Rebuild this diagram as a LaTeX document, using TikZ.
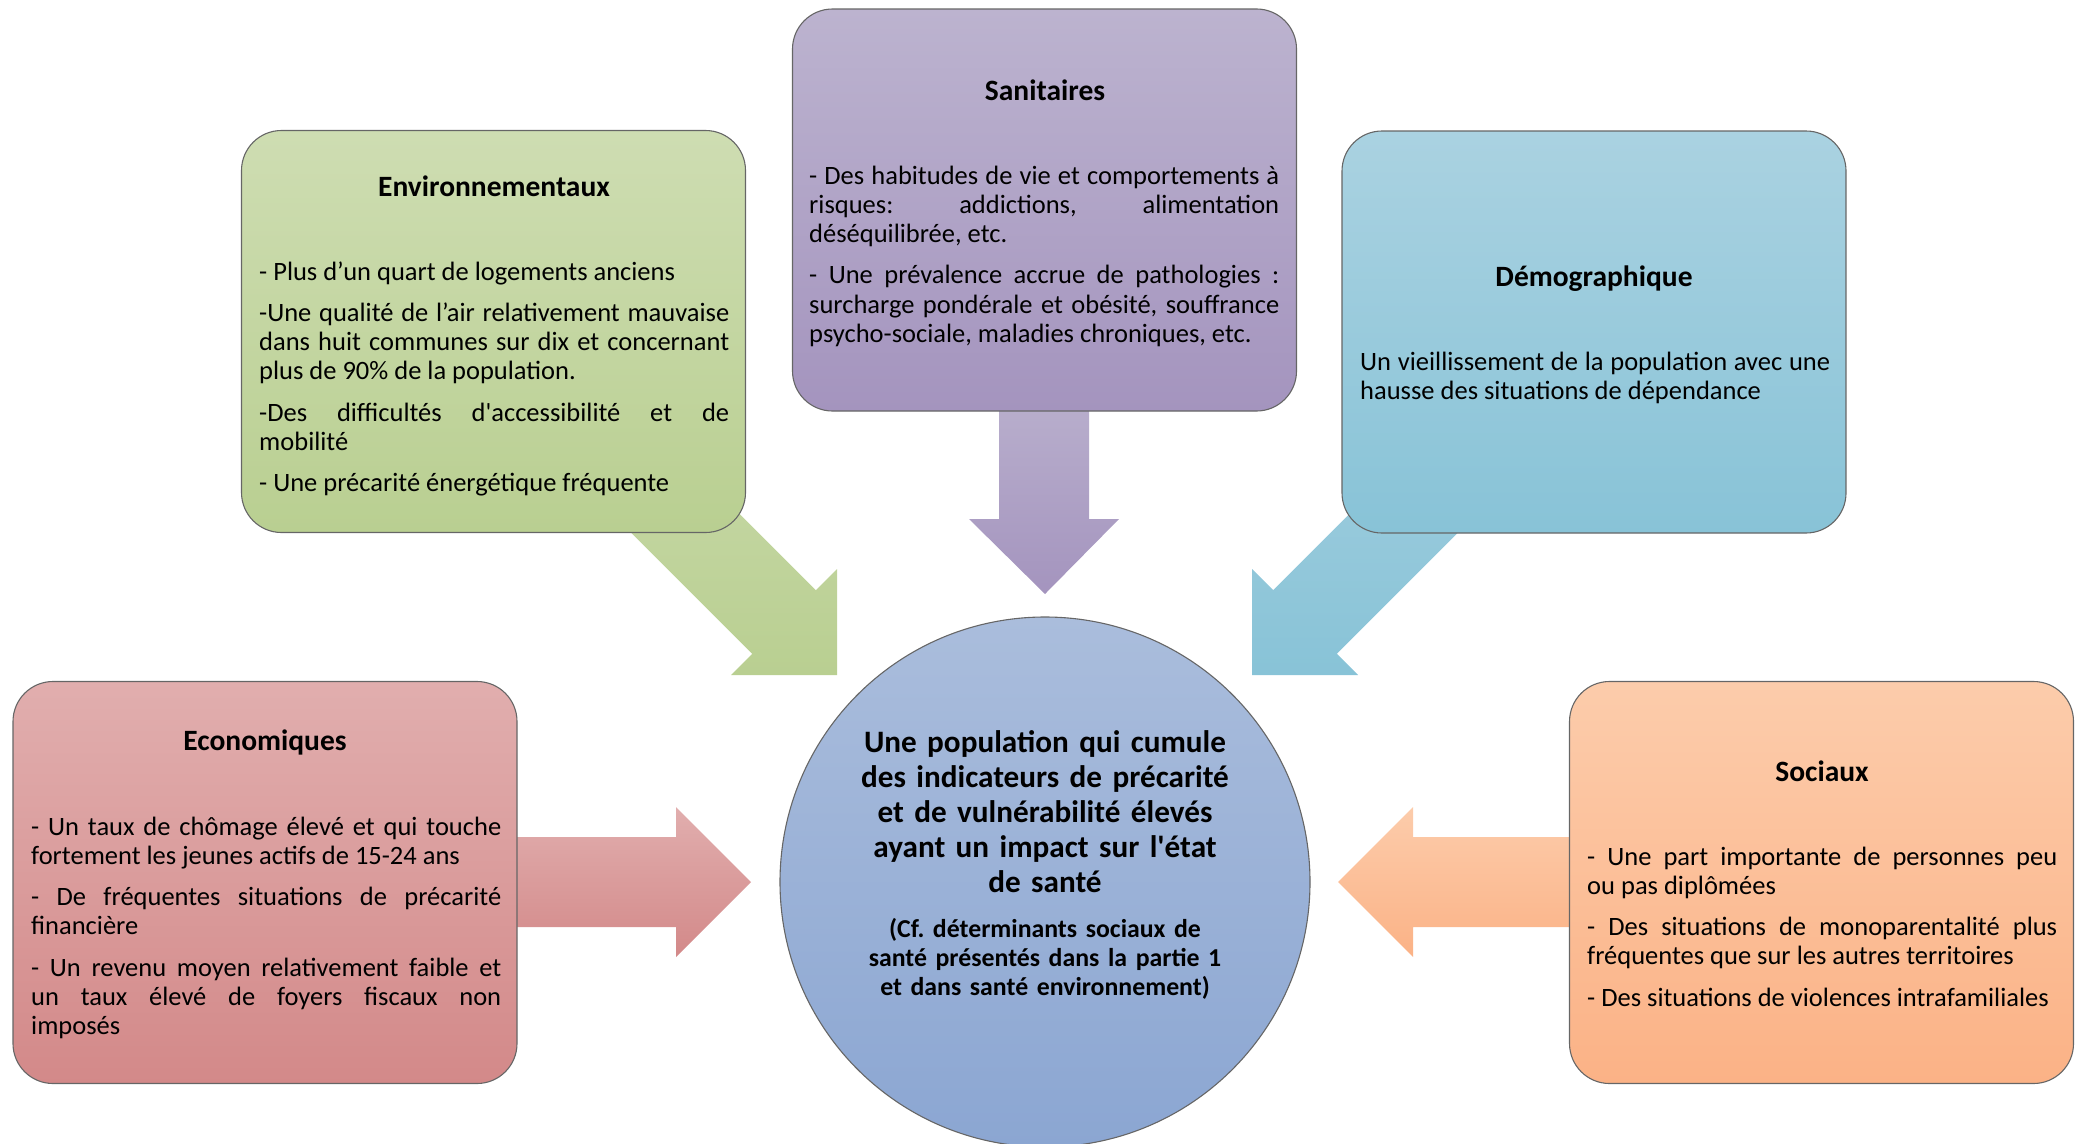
\documentclass[tikz,border=0pt]{standalone}
\usepackage{fontspec}
\setmainfont{Carlito}[Ligatures=TeXOff]
\frenchspacing

\definecolor{envtop}{HTML}{CEDDB2}
\definecolor{envbot}{HTML}{B9CF91}
\definecolor{santop}{HTML}{BCB3CF}
\definecolor{sanbot}{HTML}{A494BE}
\definecolor{demtop}{HTML}{AAD2E1}
\definecolor{dembot}{HTML}{88C3D7}
\definecolor{ecotop}{HTML}{E1AEAE}
\definecolor{ecobot}{HTML}{D38989}
\definecolor{soctop}{HTML}{FCCCAB}
\definecolor{socbot}{HTML}{FBB286}
\definecolor{poptop}{HTML}{AABDDC}
\definecolor{popbot}{HTML}{8BA6D2}

\tikzset{
	card/.style={draw=black!60, line width=1.1pt, rounded corners=40pt,
		minimum width=504pt, minimum height=402pt, inner sep=0pt},
	cardtitle/.style={anchor=base, font=\fontsize{29.5}{35}\selectfont\bfseries},
	cardtext/.style={anchor=base west, inner sep=0pt, text width=470pt, align=justify,
		font=\fontsize{26.5}{29.3}\selectfont,
		execute at begin node={\setlength{\parskip}{12pt}\hyphenpenalty=10000\exhyphenpenalty=10000\hbadness=10000}},
	poptext/.style={anchor=base, inner sep=0pt, text width=480pt, align=center},
}

\begin{document}
\begin{tikzpicture}[x=1pt, y=-1pt]
	\useasboundingbox (0,0) rectangle (2084,1143);
	
	% block arrows, drawn first so the cards hide their tails
	\shade [top color=santop!85!sanbot, bottom color=sanbot] (1045,594) -- (1119,519) -- (1089,519) -- (1089,400) -- (999,400) -- (999,519) -- (969,519) -- cycle;
	\shade [top color=ecotop, bottom color=ecobot] (751,882) -- (676,807) -- (676,837) -- (500,837) -- (500,927) -- (676,927) -- (676,957) -- cycle;
	\shade [top color=soctop, bottom color=socbot] (1338,882) -- (1413,807) -- (1413,837) -- (1590,837) -- (1590,927) -- (1413,927) -- (1413,957) -- cycle;
	\shade [top color=envtop!60!envbot, bottom color=envbot] (837,675) -- (731,675) -- (752.2,653.8) -- (611.2,512.8) -- (674.8,449.2) -- (815.8,590.2) -- (837,569) -- cycle;
	\shade [top color=demtop!60!dembot, bottom color=dembot] (1252,675) -- (1252,569) -- (1273.2,590.2) -- (1414.2,449.2) -- (1477.8,512.8) -- (1336.8,653.8) -- (1358,675) -- cycle;
	
	\foreach \name/\x/\y in {env/493.5/331.5, san/1044.5/210, dem/1594/332, eco/265/882.5, soc/1821.5/882.5}
		\node [card, top color=\name top, bottom color=\name bot] (\name) at (\x,\y) {};
	
	\node [circle, draw=black!60, line width=1.1pt, top color=poptop, bottom color=popbot,
		minimum size=530pt, inner sep=0pt] (pop) at (1045,882) {};
	
	\node [cardtitle] (envtitle) at (494,196) {Environnementaux};
	\node [cardtext] (envtext) at (259,280) {- Plus d’un quart de logements anciens\par
		-Une qualité de l’air relativement mauvaise\linebreak dans huit communes sur dix et concernant\linebreak plus de 90\% de la population.\par
		-Des difficultés d'accessibilité et de\linebreak mobilité\par
		- Une précarité énergétique fréquente};
	
	\node [cardtitle] (santitle) at (1045,100) {Sanitaires};
	\node [cardtext] (santext) at (809,184) {- Des habitudes de vie et comportements à\linebreak risques: addictions, alimentation\linebreak déséquilibrée, etc.\par
		- Une prévalence accrue de pathologies :\linebreak surcharge pondérale et obésité, souffrance\linebreak psycho-sociale, maladies chroniques, etc.};
	
	\node [cardtitle] (demtitle) at (1594,286) {Démographique};
	\node [cardtext] (demtext) at (1360,370) {Un vieillissement de la population avec une\linebreak hausse des situations de dépendance};
	
	\node [cardtitle] (ecotitle) at (265,750) {Economiques};
	\node [cardtext] (ecotext) at (31,835) {- Un taux de chômage élevé et qui touche\linebreak fortement les jeunes actifs de 15-24 ans\par
		- De fréquentes situations de précarité\linebreak financière\par
		- Un revenu moyen relativement faible et\linebreak un taux élevé de foyers fiscaux non\linebreak imposés};
	
	\node [cardtitle] (soctitle) at (1822,781) {Sociaux};
	\node [cardtext] (soctext) at (1587,865) {- Une part importante de personnes peu\linebreak ou pas diplômées\par
		- Des situations de monoparentalité plus\linebreak fréquentes que sur les autres territoires\par
		- Des situations de violences intrafamiliales};
	
	\node [poptext, font=\fontsize{31.2}{35.2}\selectfont\bfseries] (poptitle) at (1045,752)
		{Une population qui cumule\\des indicateurs de précarité\\et de vulnérabilité élevés\\ayant un impact sur l'état\\de santé};
	\node [poptext, font=\fontsize{25.8}{29.3}\selectfont\bfseries] (popnote) at (1045,937)
		{(Cf. déterminants sociaux de\\santé présentés dans la partie 1\\et dans santé environnement)};
\end{tikzpicture}
\end{document}
